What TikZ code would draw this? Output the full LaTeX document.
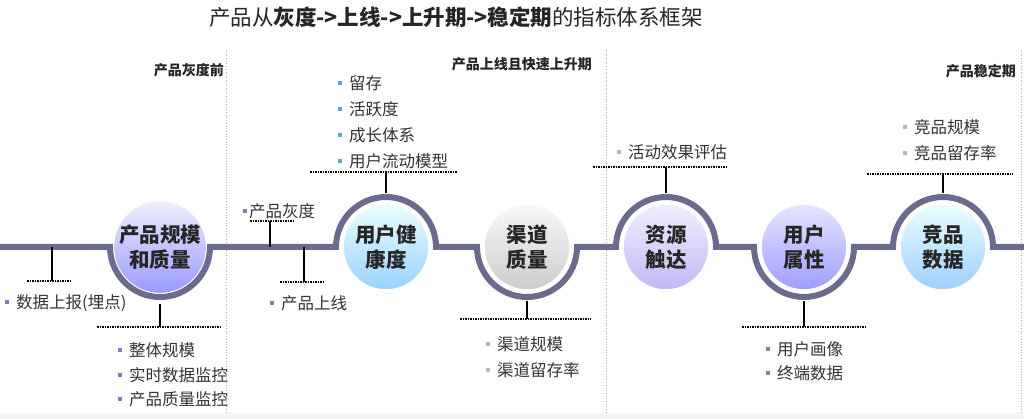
\documentclass[tikz,border=0pt]{standalone}
\usepackage{fontspec}
\setmainfont{Noto Sans CJK SC}
\usetikzlibrary{positioning}
\definecolor{trackc}{HTML}{6B6B8E}
\definecolor{txt}{HTML}{333333}
\definecolor{bpurple}{HTML}{7E7EB4}
\definecolor{bteal}{HTML}{62A6C8}
\definecolor{bgray}{HTML}{B8B8B8}
\newcommand{\sq}[2][7pt]{\textcolor{#2}{\rule[4.5pt]{4pt}{4pt}}\hspace{#1}}

\begin{document}
\begin{tikzpicture}[
    x=1pt, y=1pt,
    track/.style={draw=trackc, line width=6pt},
    stage/.style={circle, minimum size=86pt, inner sep=0pt, align=center,
      draw=white, line width=1.5pt, text=black!85,
      font=\bfseries\fontsize{20.5}{25}\selectfont},
    item/.style={anchor=west, inner sep=0pt, text=txt,
      font=\fontsize{16.5}{19}\selectfont},
    phase/.style={anchor=east, inner sep=0pt, text=black!85,
      font=\bfseries\fontsize{14}{16}\selectfont},
    leader/.style={line width=1.5pt, densely dotted},
    stem/.style={line width=1.5pt},
    sep/.style={draw=gray!70, dotted, line width=0.7pt},
    ]
    \useasboundingbox (0,0) rectangle (1024,-419);
    \fill[gray!8] (0,-413) rectangle (1024,-419);

    \node[font=\fontsize{21.5}{25}\selectfont, text=black!85] (title) at (456,-17)
      {产品从\textbf{灰度->上线->上升期->稳定期}的指标体系框架};

    % stage separators
    \draw[sep] (226,-50) -- (226,-413);
    \draw[sep] (606,-50) -- (606,-413);
    \draw[sep] (1021,-50) -- (1021,-413);
    \node[phase] (pre) at (224,-70) {产品灰度前};
    \node[phase] (rise) at (592,-64) {产品上线且快速上升期};
    \node[phase] (stable) at (1016,-71) {产品稳定期};

    % circles
    \node[stage, top color=white!85!blue!40, bottom color=blue!40!white] (scale) at (160,-247) {产品规模\\和质量};
    \node[stage, top color=cyan!8, bottom color=cyan!55!blue!40!white] (health) at (386,-247) {用户健\\康度};
    \node[stage, top color=gray!5, bottom color=gray!40] (channel) at (527,-247) {渠道\\质量};
    \node[stage, top color=blue!6, bottom color=violet!30!blue!28!white] (reach) at (666,-247) {资源\\触达};
    \node[stage, top color=blue!10, bottom color=blue!38!white] (attr) at (804,-247) {用户\\属性};
    \node[stage, top color=cyan!8, bottom color=cyan!50!blue!38!white] (rival) at (943,-247) {竞品\\数据};

    \draw[track] (0,-247) -- ([xshift=-50pt]scale.center)
      arc[start angle=180, end angle=360, radius=50pt] -- ([xshift=-50pt]health.center)
      arc[start angle=180, end angle=0, radius=50pt] -- ([xshift=-50pt]channel.center)
      arc[start angle=180, end angle=360, radius=50pt] -- ([xshift=-50pt]reach.center)
      arc[start angle=180, end angle=0, radius=50pt] -- ([xshift=-50pt]attr.center)
      arc[start angle=180, end angle=360, radius=50pt] -- ([xshift=-50pt]rival.center)
      arc[start angle=180, end angle=0, radius=50pt] -- (1024,-247);

    % callouts on the track
    \coordinate (t-report) at (52,-247);
    \coordinate (d-report) at (52,-281);
    \draw[stem] (t-report) -- (d-report);
    \draw[leader] (27,-281) -- (72,-281);
    \node[item] (report) at (5,-303) {\sq{bpurple}数据上报(埋点)};

    \coordinate (t-gray) at (270,-247);
    \coordinate (d-gray) at (270,-221);
    \draw[stem] (t-gray) -- (d-gray);
    \draw[leader] (250,-221) -- (295,-221);
    \node[item] (gray) at (243,-211) {\sq[2pt]{bpurple}产品灰度};

    \coordinate (t-online) at (304,-247);
    \coordinate (d-online) at (304,-282);
    \draw[stem] (t-online) -- (d-online);
    \draw[leader] (280,-282) -- (325,-282);
    \node[item] (online) at (270,-303) {\sq{bpurple}产品上线};

    % callouts on the circles
    \coordinate (d-scale) at (160,-327);
    \draw[stem] ([yshift=-10pt]scale.south) -- (d-scale);
    \draw[leader] (97,-327) -- (220,-327);
    \foreach \t [count=\i] in {整体规模, 实时数据监控, 产品质量监控}
      \node[item] (scale-\i) at (118,-326-24.5*\i) {\sq{bpurple}\t};

    \coordinate (d-health) at (386,-172);
    \draw[stem] ([yshift=10pt]health.north) -- (d-health);
    \draw[leader] (310,-172) -- (457,-172);
    \foreach \t [count=\i] in {留存, 活跃度, 成长体系, 用户流动模型}
      \node[item] (health-\i) at (338,-57-26*\i) {\sq{bteal}\t};

    \coordinate (d-channel) at (527,-319);
    \draw[stem] ([yshift=-10pt]channel.south) -- (d-channel);
    \draw[leader] (460,-319) -- (591,-319);
    \foreach \t [count=\i] in {渠道规模, 渠道留存率}
      \node[item] (channel-\i) at (486,-318-26*\i) {\sq{bgray}\t};

    \coordinate (d-reach) at (666,-167);
    \draw[stem] ([yshift=10pt]reach.north) -- (d-reach);
    \draw[leader] (593,-167) -- (728,-167);
    \node[item] (reach-1) at (617,-152) {\sq{bgray}活动效果评估};

    \coordinate (d-attr) at (804,-327);
    \draw[stem] ([yshift=-10pt]attr.south) -- (d-attr);
    \draw[leader] (742,-327) -- (865,-327);
    \foreach \t [count=\i] in {用户画像, 终端数据}
      \node[item] (attr-\i) at (766,-325-24*\i) {\sq{bpurple}\t};

    \coordinate (d-rival) at (943,-174);
    \draw[stem] ([yshift=10pt]rival.north) -- (d-rival);
    \draw[leader] (867,-174) -- (1013,-174);
    \foreach \t [count=\i] in {竞品规模, 竞品留存率}
      \node[item] (rival-\i) at (903,-101-26*\i) {\sq{bgray}\t};
  \end{tikzpicture}
\end{document}
